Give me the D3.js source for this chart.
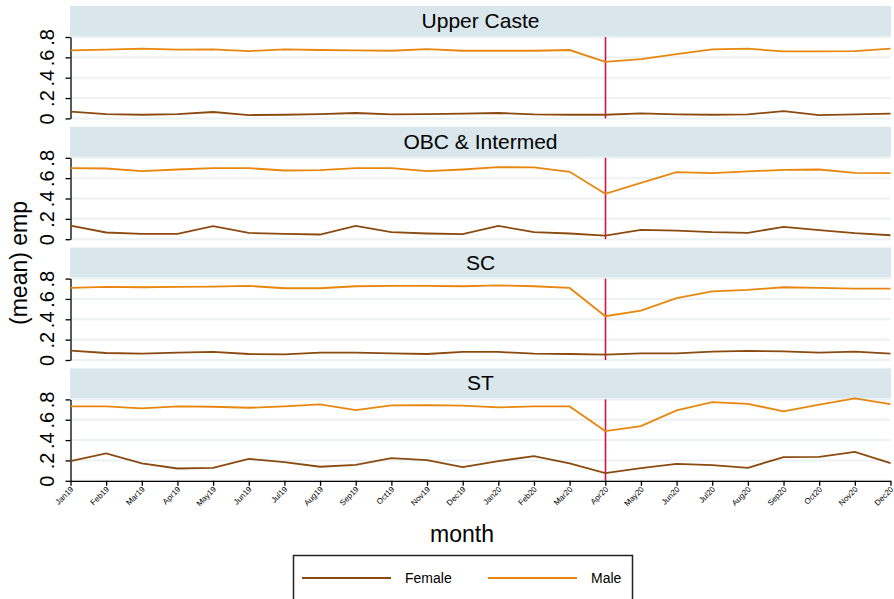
<!DOCTYPE html>
<html lang="en">
<head>
    <meta charset="UTF-8">
    <title>emp by caste and sex</title>
    <script src="https://d3js.org/d3.v7.min.js"></script>
    <style>
        body { margin: 0; background: #fff; }
        text { font-family: "Liberation Sans", Arial, sans-serif; }
    </style>
</head>
<body>
    <svg id="graph" width="894" height="599"></svg>

    <script>
        // month labels on the x axis
        const months = ["Jan19", "Feb19", "Mar19", "Apr19", "May19", "Jun19", "Jul19", "Aug19",
            "Sep19", "Oct19", "Nov19", "Dec19", "Jan20", "Feb20", "Mar20", "Apr20", "May20",
            "Jun20", "Jul20", "Aug20", "Sep20", "Oct20", "Nov20", "Dec20"];
        const groups = ["Upper Caste", "OBC & Intermed", "SC", "ST"];
        const yTicks = [0, 0.2, 0.4, 0.6, 0.8];
        const lockdownMonth = "Apr20";

        // (mean) emp
        const femaleUpper = [0.066, 0.043, 0.036, 0.043, 0.063, 0.033, 0.036, 0.043, 0.053, 0.040, 0.043, 0.046,
            0.053, 0.040, 0.036, 0.036, 0.049, 0.040, 0.036, 0.040, 0.072, 0.033, 0.040, 0.046];
        const maleUpper = [0.668, 0.675, 0.685, 0.675, 0.678, 0.662, 0.678, 0.672, 0.668, 0.665, 0.681, 0.665,
            0.665, 0.665, 0.672, 0.556, 0.583, 0.632, 0.678, 0.685, 0.658, 0.658, 0.662, 0.685];
        const femaleOBC = [0.134, 0.066, 0.052, 0.052, 0.128, 0.062, 0.052, 0.046, 0.131, 0.069, 0.056, 0.049,
            0.131, 0.069, 0.056, 0.036, 0.092, 0.085, 0.069, 0.062, 0.121, 0.089, 0.059, 0.039];
        const maleOBC = [0.698, 0.695, 0.669, 0.685, 0.698, 0.698, 0.675, 0.679, 0.698, 0.698, 0.669, 0.685,
            0.708, 0.705, 0.662, 0.446, 0.554, 0.659, 0.649, 0.666, 0.682, 0.685, 0.652, 0.649];
        const femaleSC = [0.092, 0.069, 0.062, 0.072, 0.079, 0.059, 0.056, 0.072, 0.072, 0.066, 0.059, 0.079,
            0.079, 0.062, 0.059, 0.052, 0.066, 0.066, 0.082, 0.089, 0.085, 0.072, 0.082, 0.062];
        const maleSC = [0.708, 0.718, 0.715, 0.718, 0.721, 0.728, 0.705, 0.705, 0.725, 0.728, 0.728, 0.725,
            0.734, 0.725, 0.708, 0.430, 0.485, 0.607, 0.675, 0.689, 0.715, 0.708, 0.702, 0.702];
        const femaleST = [0.193, 0.269, 0.171, 0.121, 0.128, 0.216, 0.184, 0.138, 0.157, 0.223, 0.203, 0.134,
            0.193, 0.243, 0.171, 0.075, 0.125, 0.167, 0.154, 0.128, 0.233, 0.236, 0.285, 0.174];
        const maleST = [0.731, 0.731, 0.711, 0.731, 0.728, 0.718, 0.731, 0.751, 0.695, 0.741, 0.744, 0.738,
            0.721, 0.731, 0.731, 0.489, 0.538, 0.692, 0.774, 0.757, 0.682, 0.748, 0.810, 0.754];

        const femaleSeries = [femaleUpper, femaleOBC, femaleSC, femaleST];
        const maleSeries = [maleUpper, maleOBC, maleSC, maleST];

        const colFemale = "#8a4a10";
        const colMale = "#e8860e";
        const colStrip = "#d9e6eb";
        const colGrid = "#eaf2f3";
        const colRed = "#d4123f";

        const svg = d3.select("#graph");
        const left = 70.5, right = 890.5;
        const panelStep = 120.8;
        const stripH = 30;

        const x = d3.scalePoint().domain(months).range([left, right]);

        groups.forEach((name, i) => {
            const top = 6 + i * panelStep;
            const y = d3.scaleLinear().domain([0, 0.8]).range([top + 112.4, top + 31]);
            const g = svg.append("g");

            // strip
            g.append("rect")
                .attr("x", left - 0.5).attr("y", top)
                .attr("width", right - left + 1).attr("height", stripH)
                .attr("fill", colStrip);
            g.append("text")
                .attr("x", (left + right) / 2).attr("y", top + 22)
                .attr("text-anchor", "middle")
                .attr("font-size", 21)
                .text(name);

            // grid
            g.selectAll(".grid")
                .data(yTicks)
                .join("line")
                .attr("x1", left).attr("x2", right)
                .attr("y1", d => y(d)).attr("y2", d => y(d))
                .attr("stroke", colGrid)
                .attr("stroke-width", 2);

            // y axis
            const ax = g.append("g")
                .attr("transform", `translate(${left},0)`)
                .call(d3.axisLeft(y).tickValues(yTicks).tickSize(5).tickSizeOuter(0)
                    .tickFormat(d => d === 0 ? "0" : d3.format(".1f")(d).replace("0.", ".")));
            ax.select(".domain").attr("stroke", "#000").attr("stroke-width", 1.3);
            ax.selectAll(".tick line").attr("stroke", "#000").attr("stroke-width", 1.3);
            ax.selectAll(".tick text")
                .attr("x", null).attr("dy", null)
                .attr("transform", "translate(-17,0) rotate(-90)")
                .attr("text-anchor", "middle")
                .attr("fill", "#000")
                .attr("font-size", 20)
                .attr("font-family", "Liberation Sans, Arial, sans-serif");

            // lockdown marker
            g.append("line")
                .attr("x1", Math.round(x(lockdownMonth)) + 0.5).attr("x2", Math.round(x(lockdownMonth)) + 0.5)
                .attr("y1", y(0.8)).attr("y2", y(0))
                .attr("stroke", colRed).attr("stroke-width", 1.6);

            const line = d3.line().x((d, j) => x(months[j])).y(d => y(d));
            g.append("path")
                .attr("d", line(femaleSeries[i]))
                .attr("fill", "none").attr("stroke", colFemale).attr("stroke-width", 1.8);
            g.append("path")
                .attr("d", line(maleSeries[i]))
                .attr("fill", "none").attr("stroke", colMale).attr("stroke-width", 1.8);

            // x axis only on the last panel
            if (i === groups.length - 1) {
                const xa = g.append("g")
                    .attr("transform", `translate(0,${y(0)})`)
                    .call(d3.axisBottom(x).tickSize(5).tickSizeOuter(0));
                xa.select(".domain").attr("stroke", "#000").attr("stroke-width", 1.3);
                xa.selectAll(".tick line").attr("stroke", "#000").attr("stroke-width", 1.3);
                xa.selectAll(".tick text")
                    .attr("y", null).attr("dy", null)
                    .attr("transform", "translate(3,9) rotate(-45)")
                    .attr("text-anchor", "end")
                    .attr("fill", "#000")
                    .attr("font-size", 8)
                    .attr("font-family", "Liberation Sans, Arial, sans-serif");
            }
        });

        // axis titles
        svg.append("text")
            .attr("transform", "translate(27,263) rotate(-90)")
            .attr("text-anchor", "middle")
            .attr("font-size", 23)
            .text("(mean) emp");
        svg.append("text")
            .attr("x", 462).attr("y", 542)
            .attr("text-anchor", "middle")
            .attr("font-size", 23)
            .text("month");

        // legend
        const legend = svg.append("g");
        legend.append("rect")
            .attr("x", 293.5).attr("y", 555.5)
            .attr("width", 339).attr("height", 60)
            .attr("fill", "#fff").attr("stroke", "#222").attr("stroke-width", 1.5);
        const keys = [
            { label: "Female", color: colFemale, x1: 302, tx: 405 },
            { label: "Male", color: colMale, x1: 488, tx: 591 }
        ];
        keys.forEach(k => {
            legend.append("line")
                .attr("x1", k.x1).attr("x2", k.x1 + 89)
                .attr("y1", 578).attr("y2", 578)
                .attr("stroke", k.color).attr("stroke-width", 2);
            legend.append("text")
                .attr("x", k.tx).attr("y", 583)
                .attr("font-size", 14)
                .text(k.label);
        });
    </script>
</body>
</html>
